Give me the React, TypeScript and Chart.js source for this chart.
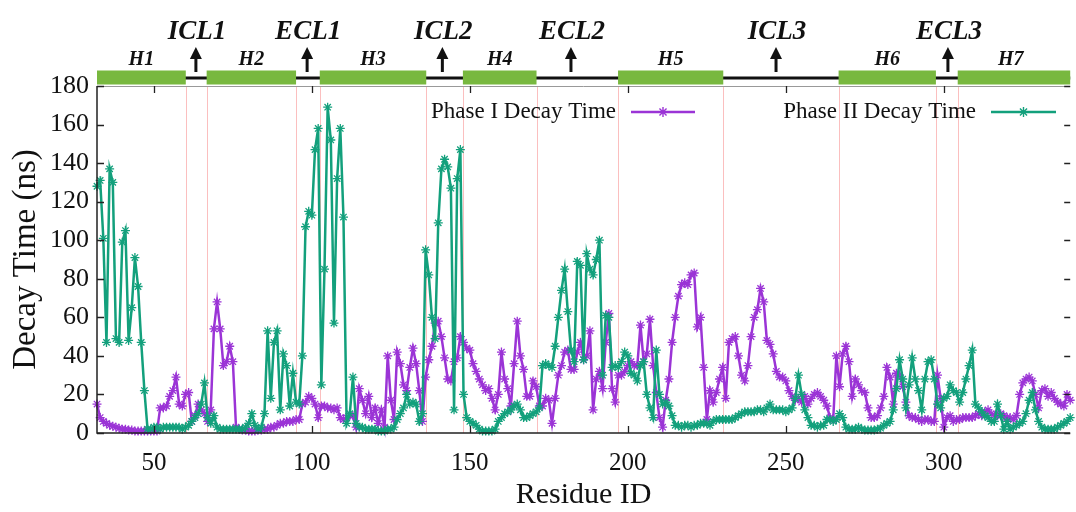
import { useEffect, useRef } from 'react';
import { Chart, registerables } from 'chart.js';

Chart.register(...registerables);

// Residue IDs run from firstResidue, one value per residue
const firstResidue = 32;

const phaseI = [
  15, 8, 6, 5, 4, 3.5, 3, 2.5, 2, 2,
  1.5, 1.5, 1, 1, 1, 1, 1, 1, 1, 1,
  13, 13, 14, 19, 22, 29, 15, 14, 20, 21,
  6, 9, 15, 12, 10, 6, 12, 54, 68, 54,
  35, 37, 45, 37, 3, 2, 1.5, 1.5, 1, 1,
  1, 1.5, 1.5, 2, 2, 3, 3, 4, 5, 5,
  6, 6, 6, 7, 7, 15, 16, 19, 18, 15,
  8, 14, 14, 13, 13, 12, 13, 8, 7, 8,
  9, 9, 3, 23, 17, 10, 19, 8, 13, 5,
  12, 3, 40, 17, 7, 42, 36, 25, 22, 34,
  44, 36, 22, 6, 29, 38, 45, 57, 58, 50,
  39, 28, 27, 37, 39, 50, 47, 44, 43, 36,
  32, 28, 25, 22, 23, 18, 12, 20, 42, 28,
  23, 14, 36, 58, 40, 33, 19, 19, 27, 24,
  14, 14, 18, 17, 5, 18, 30, 35, 42, 43,
  33, 33, 42, 47, 38, 40, 53, 12, 28, 32,
  23, 47, 62, 23, 16, 30, 30, 32, 35, 37,
  35, 35, 56, 37, 41, 59, 35, 21, 8, 3,
  17, 28, 47, 60, 71, 77, 78, 77, 82, 83,
  55, 60, 34, 7, 22, 16, 21, 28, 34, 18,
  47, 49, 50, 40, 30, 27, 35, 50, 60, 64,
  75, 68, 48, 46, 41, 32, 29, 29, 27, 22,
  19, 17, 18, 16, 19, 15, 18, 20, 21, 19,
  17, 14, 8, 7, 40, 24, 41, 45, 37, 19,
  28, 25, 22, 21, 13, 8, 8, 9, 13, 19,
  34, 29, 15, 31, 30, 24, 16, 9, 8, 8,
  7, 6, 7, 7, 6, 6, 30, 18, 3, 8,
  9, 6, 7, 7, 8, 8, 8, 8, 9, 10,
  9, 11, 12, 10, 9, 9, 10, 9, 8, 8,
  7, 9, 20, 26, 28, 29, 27, 20, 13, 22,
  23, 19, 21, 18, 16, 15, 14, 20, 17,
];

const phaseII = [
  128, 131, 101, 47, 137, 130, 49, 47, 99, 105,
  48, 65, 91, 76, 47, 22, 2, 2, 3, 3,
  2, 3, 3, 3, 3, 3, 3, 2, 3, 4,
  6, 8, 10, 15, 26, 8, 5, 9, 3, 2,
  2, 2, 2, 2, 2, 2, 2, 3, 5, 10,
  4, 2, 3, 10, 53, 18, 47, 53, 12, 41,
  35, 14, 31, 16, 15, 40, 107, 115, 113, 147,
  158, 25, 85, 169, 152, 57, 132, 158, 112, 5,
  10, 29, 5, 3, 3, 2, 2, 2, 2, 1,
  1, 1, 2, 2, 3, 7, 10, 13, 20, 15,
  16, 15, 6, 10, 95, 82, 60, 49, 109, 137,
  142, 138, 127, 12, 132, 147, 20, 8, 6, 5,
  4, 2, 1, 1, 1, 1, 2, 6, 8, 10,
  11, 12, 14, 15, 12, 8, 8, 9, 10, 11,
  13, 35, 36, 35, 34, 45, 60, 74, 85, 63,
  43, 37, 89, 87, 38, 93, 85, 82, 90, 100,
  30, 61, 60, 34, 35, 34, 37, 42, 40, 31,
  30, 27, 35, 37, 20, 13, 8, 43, 20, 15,
  16, 14, 9, 4, 4, 3, 4, 4, 3, 4,
  4, 5, 5, 5, 4, 6, 7, 7, 7, 7,
  7, 7, 8, 9, 10, 11, 11, 11, 11, 12,
  12, 11, 13, 15, 12, 12, 12, 12, 11, 12,
  13, 18, 30, 20, 12, 8, 4, 4, 3, 4,
  4, 7, 7, 6, 7, 10, 8, 3, 2, 2,
  2, 3, 2, 1.5, 1.5, 1.5, 1.5, 2, 2.5, 4,
  5, 6, 12, 23, 38, 28, 13, 25, 39, 28,
  22, 12, 28, 37, 38, 28, 15, 13, 18, 19,
  25, 22, 21, 16, 21, 28, 35, 43, 15, 13,
  11, 9, 8, 6, 6, 15, 9, 2, 6, 2,
  3, 4, 5, 6, 10, 17, 21, 12, 6, 3,
  2, 2, 2, 2, 3, 4, 5, 6, 8,
];

const xTickValues = [50, 100, 150, 200, 250, 300];
const yTickValues = [0, 20, 40, 60, 80, 100, 120, 140, 160, 180];

const helixNames = ['H1', 'H2', 'H3', 'H4', 'H5', 'H6', 'H7'];
const helixStart = [32, 66.7, 102.5, 147.8, 196.9, 266.7, 304.4];
const helixEnd = [60.1, 95, 136.2, 171.1, 230.2, 297.5, 340];

const loopNames = ['ICL1', 'ECL1', 'ICL2', 'ECL2', 'ICL3', 'ECL3'];
const loopPositions = [63.3, 98.5, 141.3, 182, 246.9, 301.3];

const seriesNames = ['Phase I Decay Time', 'Phase II Decay Time'];

const PURPLE = '#9b34d6';
const TEAL = '#13a07c';
const GREEN = '#78b83f';
const SERIF = "'Liberation Serif', 'DejaVu Serif', 'Times New Roman', serif";

function drawStar(ctx: CanvasRenderingContext2D, x: number, y: number, r: number) {
  ctx.beginPath();
  ctx.moveTo(x - r, y); ctx.lineTo(x + r, y);
  ctx.moveTo(x, y - r); ctx.lineTo(x, y + r);
  const d = r * 0.7071;
  ctx.moveTo(x - d, y - d); ctx.lineTo(x + d, y + d);
  ctx.moveTo(x - d, y + d); ctx.lineTo(x + d, y - d);
  ctx.stroke();
}

const decoPlugin = {
  id: 'deco',
  beforeDatasetsDraw(chart: any) {
    const { ctx, chartArea: a, scales } = chart;
    const x = scales.x;
    ctx.save();
    ctx.strokeStyle = 'rgba(250,170,170,0.75)';
    ctx.lineWidth = 1;
    const bounds: number[] = [];
    helixStart.forEach((s, i) => { if (i > 0) bounds.push(s); });
    helixEnd.forEach((e, i) => { if (i < helixEnd.length - 1) bounds.push(e); });
    bounds.forEach((b) => {
      const px = Math.round(x.getPixelForValue(b)) + 0.5;
      ctx.beginPath();
      ctx.moveTo(px, a.top);
      ctx.lineTo(px, a.bottom);
      ctx.stroke();
    });
    ctx.restore();
  },
  afterDraw(chart: any) {
    const { ctx, chartArea: a, scales } = chart;
    const x = scales.x;
    const y = scales.y;
    ctx.save();

    // frame
    ctx.strokeStyle = '#222';
    ctx.lineWidth = 1.5;
    ctx.beginPath();
    ctx.moveTo(a.left, a.top);
    ctx.lineTo(a.left, a.bottom);
    ctx.lineTo(a.right, a.bottom);
    ctx.stroke();
    ctx.strokeStyle = '#999';
    ctx.lineWidth = 1;
    ctx.beginPath();
    ctx.moveTo(a.left, a.top + 0.5);
    ctx.lineTo(a.right, a.top + 0.5);
    ctx.stroke();

    // inward ticks
    ctx.strokeStyle = '#222';
    ctx.lineWidth = 1.3;
    xTickValues.forEach((v) => {
      const px = Math.round(x.getPixelForValue(v)) + 0.5;
      ctx.beginPath();
      ctx.moveTo(px, a.bottom); ctx.lineTo(px, a.bottom - 7);
      ctx.moveTo(px, a.top); ctx.lineTo(px, a.top + 7);
      ctx.stroke();
    });
    yTickValues.forEach((v) => {
      const py = Math.round(y.getPixelForValue(v)) + 0.5;
      ctx.beginPath();
      ctx.moveTo(a.left, py); ctx.lineTo(a.left + 7, py);
      ctx.moveTo(a.right, py); ctx.lineTo(a.right - 6, py);
      ctx.stroke();
    });

    // topology strip
    ctx.strokeStyle = '#111';
    ctx.lineWidth = 3;
    ctx.beginPath();
    ctx.moveTo(a.left, 78);
    ctx.lineTo(a.right, 78);
    ctx.stroke();
    ctx.fillStyle = GREEN;
    helixStart.forEach((s, i) => {
      const x1 = x.getPixelForValue(s);
      const x2 = x.getPixelForValue(helixEnd[i]);
      ctx.fillRect(x1, 70.5, x2 - x1, 14);
    });
    ctx.fillStyle = '#111';
    ctx.textAlign = 'center';
    ctx.textBaseline = 'middle';
    ctx.font = `italic bold 20px ${SERIF}`;
    helixNames.forEach((n, i) => {
      const cx = (x.getPixelForValue(helixStart[i]) + x.getPixelForValue(Math.min(helixEnd[i], 338))) / 2;
      ctx.fillText(n, cx, 60);
    });
    ctx.font = `italic bold 27px ${SERIF}`;
    loopNames.forEach((n, i) => {
      const px = x.getPixelForValue(loopPositions[i]);
      ctx.fillText(n, px + 1, 32);
      ctx.lineWidth = 3;
      ctx.beginPath();
      ctx.moveTo(px, 57);
      ctx.lineTo(px, 72);
      ctx.stroke();
      ctx.beginPath();
      ctx.moveTo(px, 47);
      ctx.lineTo(px - 6, 59);
      ctx.lineTo(px + 6, 59);
      ctx.closePath();
      ctx.fill();
    });

    // legend
    const legendItems = [
      { label: seriesNames[0], color: PURPLE, textRight: 616, x1: 631, x2: 695 },
      { label: seriesNames[1], color: TEAL, textRight: 976, x1: 991, x2: 1056 },
    ];
    ctx.font = `23px ${SERIF}`;
    ctx.textAlign = 'right';
    legendItems.forEach((it) => {
      ctx.fillStyle = '#111';
      ctx.fillText(it.label, it.textRight, 112);
      ctx.strokeStyle = it.color;
      ctx.lineWidth = 2.5;
      ctx.beginPath();
      ctx.moveTo(it.x1, 112);
      ctx.lineTo(it.x2, 112);
      ctx.stroke();
      ctx.lineWidth = 1.4;
      drawStar(ctx, (it.x1 + it.x2) / 2, 112, 5);
    });

    ctx.restore();
  },
};

export default function App() {
  const ref = useRef<HTMLCanvasElement | null>(null);

  useEffect(() => {
    if (!ref.current) return;
    const mk = (vals: number[]) => vals.map((v, i) => ({ x: firstResidue + i, y: v }));
    const chart = new Chart(ref.current, {
      type: 'line',
      data: {
        datasets: [
          {
            label: seriesNames[0],
            data: mk(phaseI),
            borderColor: PURPLE,
            backgroundColor: PURPLE,
            borderWidth: 2.5,
            pointStyle: 'star',
            pointRadius: 4.5,
            pointBorderWidth: 1.3,
            pointBorderColor: PURPLE,
            tension: 0,
            order: 2,
            clip: false as any,
          },
          {
            label: seriesNames[1],
            data: mk(phaseII),
            borderColor: TEAL,
            backgroundColor: TEAL,
            borderWidth: 2.5,
            pointStyle: 'star',
            pointRadius: 4.5,
            pointBorderWidth: 1.3,
            pointBorderColor: TEAL,
            tension: 0,
            order: 1,
            clip: false as any,
          },
        ],
      },
      options: {
        animation: false,
        responsive: false,
        maintainAspectRatio: false,
        layout: { padding: { top: 86, left: 0, right: 0, bottom: 0 } },
        plugins: { legend: { display: false }, tooltip: { enabled: false } },
        scales: {
          x: {
            type: 'linear',
            min: 32,
            max: 340,
            grid: { display: false, drawTicks: false },
            border: { display: false },
            afterFit: (s: any) => { s.height = 79; },
            afterBuildTicks: (s: any) => { s.ticks = xTickValues.map((v) => ({ value: v })); },
            ticks: {
              includeBounds: false,
              padding: 15,
              color: '#111',
              font: { family: SERIF, size: 25, lineHeight: 1.2 },
            },
            title: {
              display: true,
              text: 'Residue ID',
              color: '#111',
              font: { family: SERIF, size: 30, lineHeight: 1 },
              padding: { top: 0, bottom: 2 },
            },
          },
          y: {
            min: 0,
            max: 180,
            grid: { display: false, drawTicks: false },
            border: { display: false },
            afterFit: (s: any) => { s.width = 97; },
            afterBuildTicks: (s: any) => { s.ticks = yTickValues.map((v) => ({ value: v })); },
            ticks: {
              padding: 8,
              color: '#111',
              font: { family: SERIF, size: 26, lineHeight: 1.2 },
            },
            title: {
              display: true,
              text: 'Decay Time (ns)',
              color: '#111',
              font: { family: SERIF, size: 33, lineHeight: 1 },
              padding: { top: 10, bottom: 0 },
            },
          },
        },
      },
      plugins: [decoPlugin],
    } as any);
    return () => chart.destroy();
  }, []);

  return (
    <div style={{ position: 'fixed', left: 0, top: 0, width: 1076, height: 512, background: '#fff' }}>
      <canvas ref={ref} width={1076} height={512} style={{ width: 1076, height: 512, display: 'block' }} />
    </div>
  );
}
